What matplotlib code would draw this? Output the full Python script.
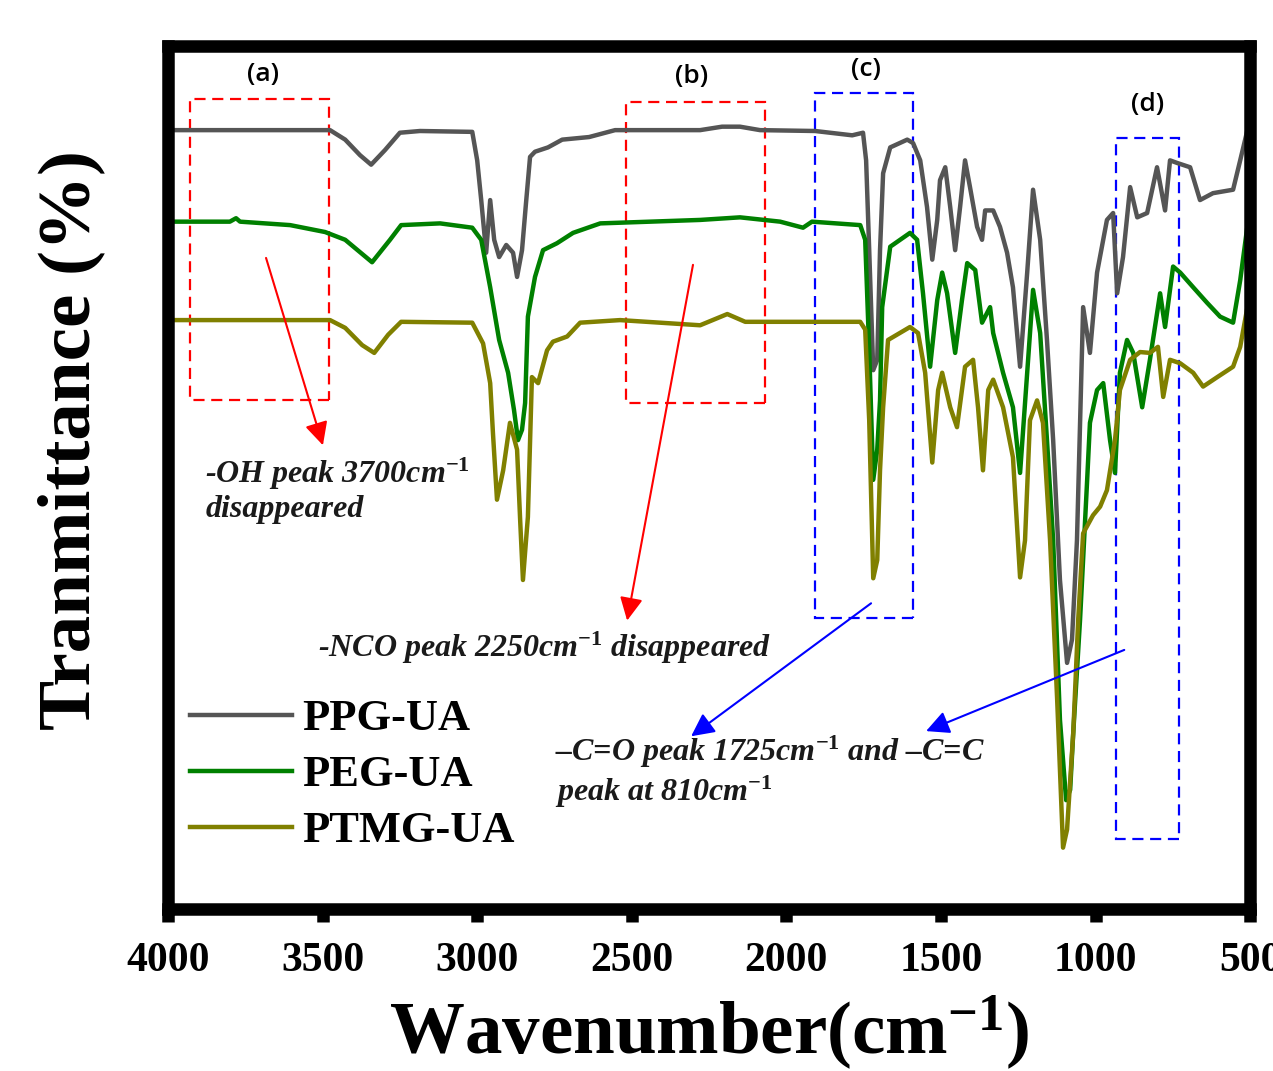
import matplotlib
matplotlib.use("Agg")
import matplotlib.pyplot as plt
from matplotlib.patches import Rectangle

plt.rcParams['font.family'] = ['Liberation Serif', 'DejaVu Serif']
plt.rcParams['mathtext.fontset'] = 'custom'
plt.rcParams['mathtext.rm'] = 'Liberation Serif'
plt.rcParams['mathtext.it'] = 'Liberation Serif:italic'
plt.rcParams['mathtext.bf'] = 'Liberation Serif:bold'

# FTIR spectra (wavenumber cm-1, transmittance a.u., offset stacked)
ppg_wn = [4000, 3476, 3427, 3379, 3343, 3298, 3250, 3185, 3016, 3000, 2987, 2971, 2958, 2945,
          2929, 2906, 2884, 2871, 2855, 2842, 2829, 2813, 2771, 2725, 2638, 2554, 2279, 2208,
          2150, 2085, 1907, 1787, 1752, 1742, 1732, 1719, 1706, 1697, 1687, 1664, 1609, 1590,
          1567, 1545, 1528, 1512, 1503, 1486, 1470, 1454, 1438, 1422, 1406, 1383, 1367, 1357,
          1331, 1309, 1286, 1267, 1244, 1221, 1202, 1179, 1157, 1137, 1115, 1092, 1076, 1060,
          1040, 1018, 995, 963, 943, 930, 911, 888, 865, 833, 801, 775, 759, 736, 694, 662,
          620, 555, 532, 506]
ppg_t = [90.2, 90.2, 89.1, 87.3, 86.2, 87.9, 89.9, 90.1, 90.0, 86.7, 82.1, 76.0, 82.1, 77.5,
         75.5, 76.9, 76.0, 73.2, 76.3, 81.8, 87.1, 87.7, 88.2, 89.1, 89.4, 90.2, 90.2, 90.6,
         90.6, 90.2, 90.1, 89.6, 89.9, 86.7, 76.3, 62.4, 63.6, 76.3, 85.2, 88.2, 89.1, 88.7,
         86.7, 81.3, 75.2, 79.8, 84.4, 85.9, 81.3, 76.3, 81.3, 86.7, 83.6, 79.0, 77.5, 80.9,
         80.9, 79.0, 76.0, 72.0, 62.8, 73.7, 83.3, 77.5, 65.9, 54.3, 38.1, 28.5, 31.2, 42.7,
         69.7, 64.4, 73.7, 79.8, 80.6, 71.3, 75.5, 83.6, 80.1, 80.6, 85.9, 80.9, 86.7, 86.4,
         85.9, 82.1, 82.9, 83.3, 86.7, 90.6]

peg_wn = [4000, 3800, 3780, 3767, 3605, 3492, 3427, 3340, 3282, 3246, 3120, 3016, 2987, 2958,
          2929, 2900, 2881, 2868, 2855, 2845, 2836, 2813, 2787, 2742, 2690, 2602, 2279, 2150,
          2020, 1946, 1917, 1761, 1745, 1732, 1719, 1706, 1697, 1690, 1664, 1600, 1577, 1558,
          1535, 1512, 1496, 1480, 1454, 1432, 1415, 1389, 1367, 1341, 1331, 1299, 1267, 1244,
          1221, 1202, 1179, 1157, 1137, 1115, 1095, 1082, 1072, 1050, 1027, 1018, 995, 975,
          953, 937, 921, 898, 878, 849, 824, 791, 775, 749, 726, 684, 639, 597, 555, 532, 506]
peg_t = [79.6, 79.6, 80.0, 79.6, 79.2, 78.4, 77.5, 74.9, 77.5, 79.2, 79.4, 78.9, 77.5, 72.0,
         65.9, 62.1, 57.8, 54.3, 55.5, 58.6, 68.6, 73.2, 76.3, 77.1, 78.3, 79.4, 79.8, 80.1,
         79.6, 78.9, 79.6, 79.2, 77.5, 64.7, 49.7, 53.2, 58.9, 69.7, 76.7, 78.3, 77.5, 71.3,
         62.8, 70.5, 73.7, 71.3, 64.4, 70.5, 74.8, 74.0, 67.9, 69.7, 66.7, 62.1, 58.1, 50.5,
         62.1, 71.7, 66.7, 54.3, 42.7, 21.9, 12.6, 13.8, 20.4, 33.5, 49.7, 56.3, 60.1, 60.9,
         54.3, 50.5, 62.1, 65.9, 64.4, 58.1, 63.6, 71.3, 67.4, 74.4, 73.7, 72.0, 70.2, 68.6,
         67.9, 72.8, 79.8]

ptmg_wn = [4000, 3476, 3427, 3372, 3333, 3288, 3246, 3016, 2981, 2958, 2949, 2936, 2916, 2894,
           2871, 2861, 2852, 2842, 2836, 2823, 2803, 2774, 2755, 2709, 2667, 2538, 2279, 2191,
           2133, 1761, 1745, 1732, 1719, 1706, 1697, 1687, 1671, 1600, 1574, 1551, 1528, 1509,
           1496, 1470, 1448, 1422, 1396, 1380, 1364, 1347, 1331, 1299, 1267, 1244, 1228, 1212,
           1189, 1170, 1147, 1124, 1105, 1092, 1072, 1056, 1040, 1008, 985, 963, 937, 921, 888,
           856, 824, 798, 781, 759, 726, 684, 652, 606, 555, 532, 506]
ptmg_t = [68.2, 68.2, 67.3, 65.3, 64.4, 66.5, 68.0, 67.9, 65.5, 60.9, 55.1, 47.4, 50.8, 56.3,
          53.2, 45.0, 38.1, 42.7, 45.4, 61.6, 60.9, 64.7, 65.7, 66.3, 67.9, 68.2, 67.6, 68.9,
          68.0, 68.0, 67.1, 56.6, 38.3, 40.4, 50.8, 58.1, 65.9, 67.4, 66.7, 62.1, 51.7, 60.1,
          62.1, 58.1, 55.8, 62.8, 63.6, 58.1, 50.8, 60.1, 61.3, 58.1, 52.3, 38.4, 42.7, 56.6,
          58.9, 56.3, 42.7, 24.2, 7.1, 9.2, 20.4, 33.5, 43.5, 45.6, 46.6, 48.5, 54.3, 60.1, 63.6,
          64.5, 64.4, 65.1, 59.3, 63.6, 63.2, 62.1, 60.5, 61.6, 62.8, 65.1, 70.2]

labels = ['PPG-UA', 'PEG-UA', 'PTMG-UA']
colors = ['#555555', '#008000', '#808000']

# highlighted regions: (label, wn_left, wn_right, t_bottom, t_top, colour)
boxes = [('(a)', 3929, 3479, 58.9, 93.8, '#ff0000'),
         ('(b)', 2518, 2069, 58.6, 93.5, '#ff0000'),
         ('(c)', 1907, 1590, 33.7, 94.5, '#0000ff'),
         ('(d)', 933, 730, 8.1, 89.3, '#0000ff')]
box_label_pos = [(3693, 96.6), (2305, 96.4), (1742, 97.2), (833, 93.2)]

fig, ax = plt.subplots(figsize=(12.73, 10.71), dpi=100)
fig.subplots_adjust(left=0.132, right=0.982, bottom=0.1513, top=0.9575)

for wn, t, lab, c in zip([ppg_wn, peg_wn, ptmg_wn], [ppg_t, peg_t, ptmg_t], labels, colors):
    ax.plot(wn, t, color=c, lw=3.2, label=lab)

for (name, x0, x1, y0, y1, c), (lx, ly) in zip(boxes, box_label_pos):
    ax.add_patch(Rectangle((x1, y0), x0 - x1, y1 - y0, fill=False, ec=c, lw=1.6,
                           ls=(0, (5, 3))))
    ax.text(lx, ly, name, family='Open Sans', fontsize=19, fontweight='semibold',
            ha='center', va='center', color='black')

arrow_kw = dict(arrowstyle='-|>,head_length=0.7,head_width=0.35', lw=1.5,
                shrinkA=0, shrinkB=0, mutation_scale=20)
ax.annotate('', xy=(3499, 53.7), xytext=(3683, 75.4), arrowprops=dict(color='#ff0000', **arrow_kw))
ax.annotate('', xy=(2515, 33.4), xytext=(2302, 74.6), arrowprops=dict(color='#ff0000', **arrow_kw))
ax.annotate('', xy=(2308, 20.0), xytext=(1726, 35.4), arrowprops=dict(color='#0000ff', **arrow_kw))
ax.annotate('', xy=(1548, 20.6), xytext=(907, 30.0), arrowprops=dict(color='#0000ff', **arrow_kw))

note_kw = dict(fontsize=23, style='italic', fontweight='bold', color='#1a1a1a')
ax.text(3880, 48.5, '-OH peak 3700cm$^{\\mathbf{-1}}$\ndisappeared', ha='left', va='center',
        linespacing=1.15, **note_kw)
ax.text(3515, 30.2, '-NCO peak 2250cm$^{\\mathbf{-1}}$ disappeared', ha='left', va='center',
        **note_kw)
ax.text(2748, 15.9, '\u2013C=O peak 1725cm$^{\\mathbf{-1}}$ and \u2013C=C\npeak at 810cm$^{\\mathbf{-1}}$',
        ha='left', va='center', linespacing=1.15, **note_kw)

ax.set_xlim(4000, 500)
ax.set_ylim(0, 100)
ax.set_xticks([4000, 3500, 3000, 2500, 2000, 1500, 1000, 500])
ax.set_yticks([])
ax.tick_params(axis='x', direction='out', length=9, width=9, pad=15, labelsize=30)
for lbl in ax.get_xticklabels():
    lbl.set_fontweight('bold')
for sp in ax.spines.values():
    sp.set_linewidth(9)

ax.set_xlabel(r'Wavenumber(cm$^{\mathbf{-1}}$)', fontsize=54, fontweight='bold', labelpad=10)
ax.set_ylabel('Tranmittance (%)', fontsize=54, fontweight='bold')
ax.yaxis.set_label_coords(-0.058, 0.543)

ax.legend(loc='upper left', bbox_to_anchor=(0.0203, 0.243), frameon=False,
          prop={'family': 'Liberation Serif', 'weight': 'bold', 'size': 32},
          handlelength=2.3, handletextpad=0.22, labelspacing=0.36, borderpad=0, borderaxespad=0)

plt.savefig('out.png', dpi=100)
plt.close()
